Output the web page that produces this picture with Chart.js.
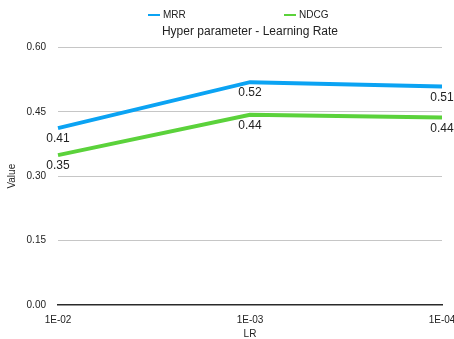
<!DOCTYPE html>
<html>
<head>
<meta charset="utf-8">
<style>
  html, body { margin: 0; padding: 0; background: #fff; }
  #wrap { width: 454px; height: 339px; }
</style>
<script src="https://cdn.jsdelivr.net/npm/chart.js@4/dist/chart.umd.min.js"></script>
</head>
<body>
<div id="wrap"><canvas id="c" width="454" height="339"></canvas></div>
<script>
// Learning-rate sweep results
const learningRates = ['1E-02', '1E-03', '1E-04'];
const mrrValues = [0.412, 0.519, 0.509];
const ndcgValues = [0.349, 0.443, 0.437];
const yTicks = [0, 0.15, 0.30, 0.45, 0.60];

const FONT = '"Liberation Sans", Arial, Helvetica, sans-serif';

// Value labels written just under each point
const pointLabels = {
  id: 'pointLabels',
  afterDatasetsDraw(chart) {
    const ctx = chart.ctx;
    ctx.save();
    ctx.font = '12px ' + FONT;
    ctx.fillStyle = '#222';
    ctx.textAlign = 'center';
    ctx.textBaseline = 'top';
    chart.data.datasets.forEach((ds, i) => {
      chart.getDatasetMeta(i).data.forEach((pt, j) => {
        ctx.fillText(ds.data[j].toFixed(2), pt.x, pt.y + 5);
      });
    });
    ctx.restore();
  }
};

// Legend drawn as two short line swatches above the title
const lineLegend = {
  id: 'lineLegend',
  afterDraw(chart) {
    const ctx = chart.ctx;
    const area = chart.chartArea;
    const mid = (area.left + area.right) / 2;
    const starts = [mid - 102, mid + 34];
    ctx.save();
    ctx.font = '10px ' + FONT;
    ctx.textBaseline = 'middle';
    ctx.textAlign = 'left';
    chart.data.datasets.forEach((ds, i) => {
      const x = starts[i];
      const y = 15;
      ctx.strokeStyle = ds.borderColor;
      ctx.lineWidth = 2;
      ctx.beginPath();
      ctx.moveTo(x, y);
      ctx.lineTo(x + 12, y);
      ctx.stroke();
      ctx.fillStyle = '#222';
      ctx.fillText(ds.label, x + 15, y);
    });
    ctx.restore();
  }
};

new Chart(document.getElementById('c'), {
  type: 'line',
  data: {
    labels: learningRates,
    datasets: [
      { label: 'MRR', data: mrrValues, borderColor: '#0ba3f3', backgroundColor: '#0ba3f3' },
      { label: 'NDCG', data: ndcgValues, borderColor: '#5bd23b', backgroundColor: '#5bd23b' }
    ]
  },
  options: {
    responsive: false,
    animation: false,
    layout: { padding: { top: 20, left: 6.5, right: 12, bottom: -1.5 } },
    elements: {
      line: { borderWidth: 4, tension: 0, borderCapStyle: 'butt', borderJoinStyle: 'miter' },
      point: { radius: 0, hoverRadius: 0 }
    },
    plugins: {
      legend: { display: false },
      tooltip: { enabled: false },
      title: {
        display: true,
        fullSize: false,
        text: 'Hyper parameter - Learning Rate',
        color: '#222',
        font: { family: FONT, size: 12, weight: 'normal' },
        padding: { top: 4, bottom: 9 }
      }
    },
    scales: {
      x: {
        type: 'category',
        offset: false,
        grid: { display: false, drawTicks: false },
        border: { display: true, color: '#2a2a2a', width: 1.5 },
        ticks: { color: '#222', font: { family: FONT, size: 10 }, padding: 9, maxRotation: 0, autoSkip: false },
        title: { display: true, text: 'LR', color: '#222', font: { family: FONT, size: 10 }, padding: { top: 3, bottom: 0 } },
        afterFit(scale) {
          scale.height = 35.5;
          scale.paddingLeft = 0;
          scale.paddingRight = 0;
        }
      },
      y: {
        min: 0,
        max: 0.6,
        afterBuildTicks(scale) { scale.ticks = yTicks.map(v => ({ value: v })); },
        afterFit(scale) { scale.width = 51.5; },
        grid: {
          drawTicks: false,
          color: ctx => ctx.tick && ctx.tick.value === 0 ? 'rgba(0,0,0,0)' : '#c6c6c6',
          lineWidth: 1
        },
        border: { display: false },
        ticks: {
          color: '#222',
          font: { family: FONT, size: 10 },
          padding: 12,
          callback: v => Number(v).toFixed(2)
        },
        title: { display: true, text: 'Value', color: '#222', font: { family: FONT, size: 10 }, padding: { top: 0, bottom: 0 } }
      }
    }
  },
  plugins: [pointLabels, lineLegend]
});
</script>
</body>
</html>
